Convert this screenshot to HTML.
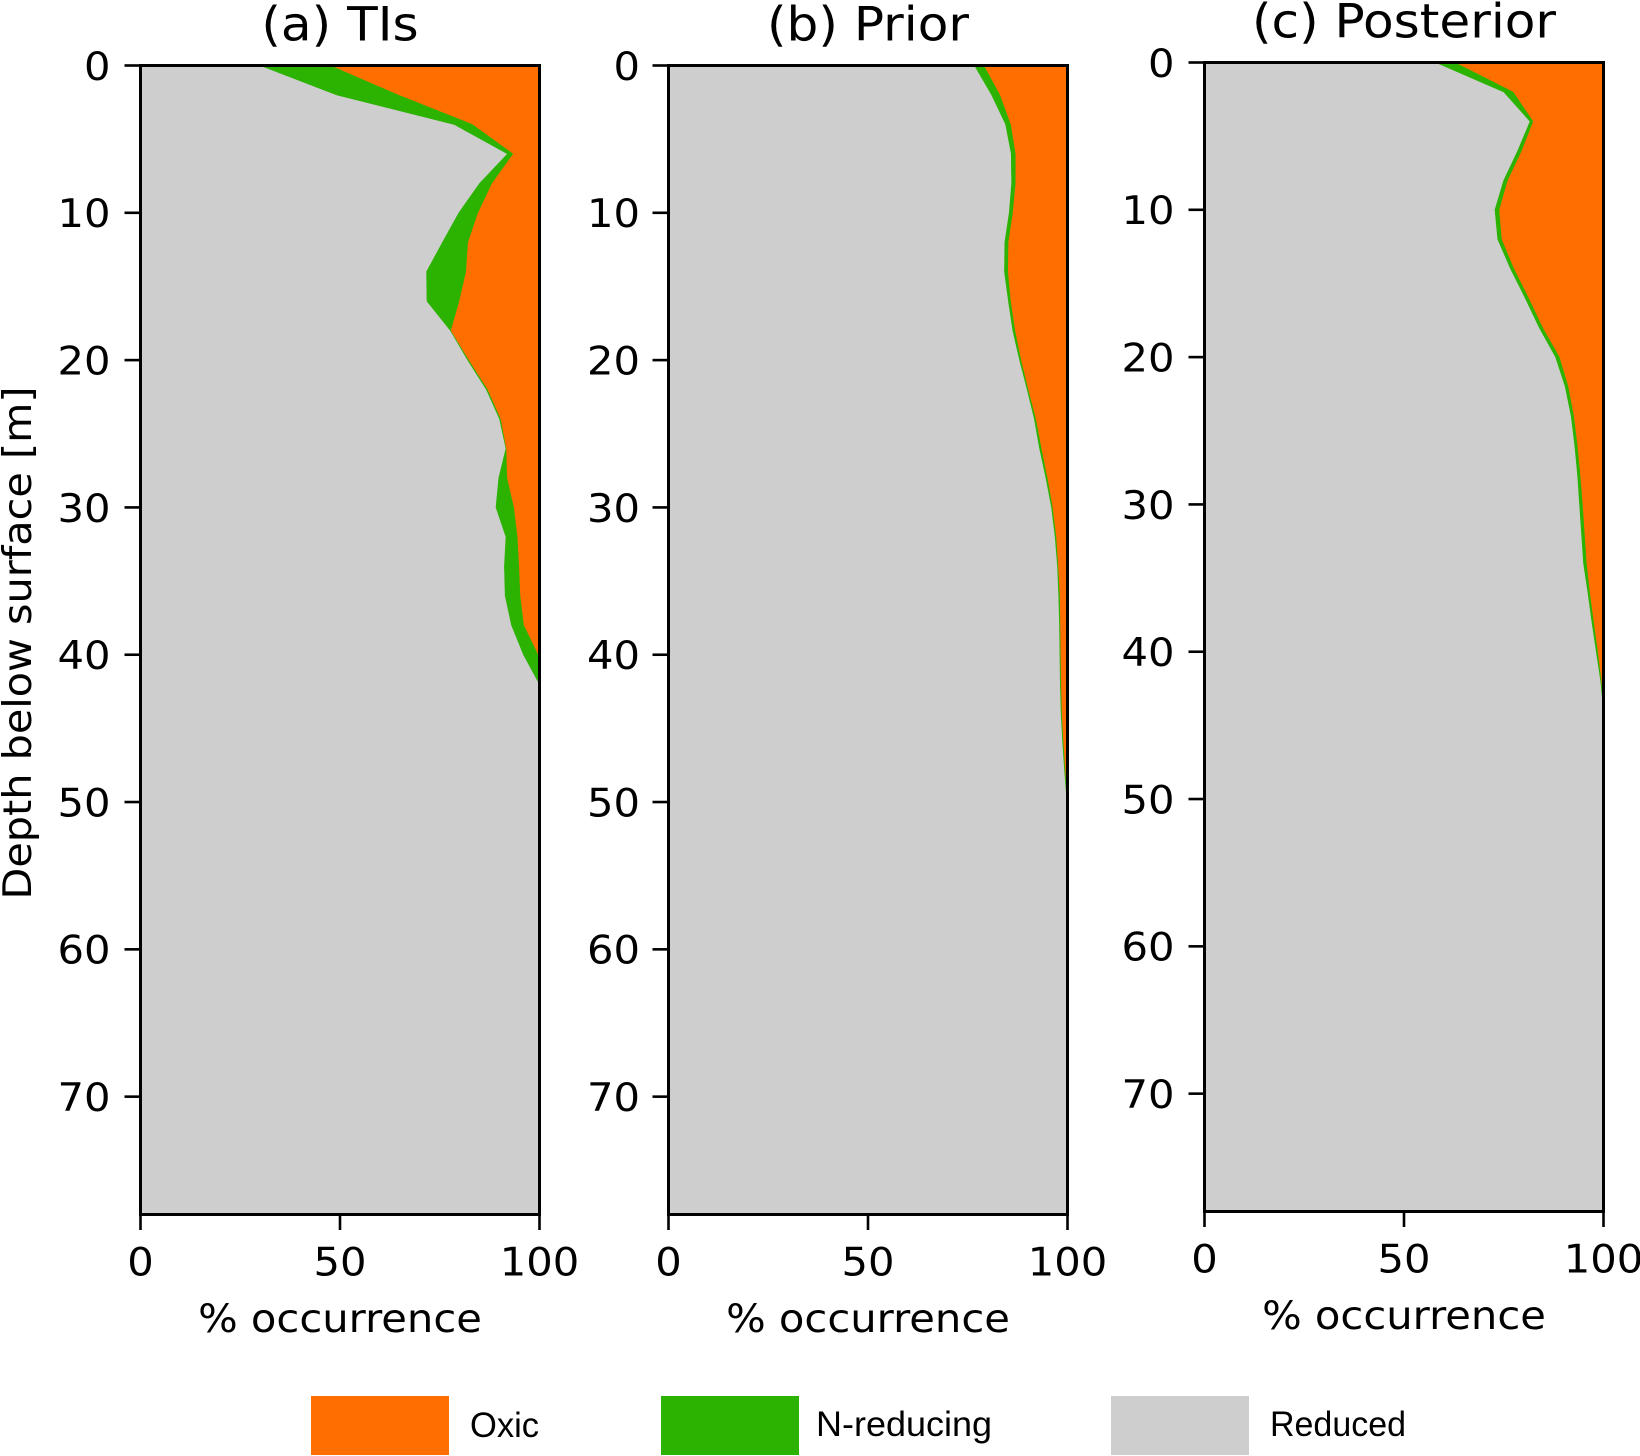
<!DOCTYPE html>
<html>
<head>
<meta charset="utf-8">
<style>
html,body{margin:0;padding:0;background:#fff;width:1640px;height:1456px;overflow:hidden}
svg{display:block}
text{font-family:"DejaVu Sans","Liberation Sans",sans-serif;fill:#000}
.legend-text{font-family:"Liberation Sans",sans-serif}
</style>
</head>
<body>
<svg id="chart" xmlns="http://www.w3.org/2000/svg" width="1640" height="1456" viewBox="0 0 1640 1456">
  <text transform="translate(31,643) rotate(-90)" text-anchor="middle" font-size="39.5" textLength="513" lengthAdjust="spacingAndGlyphs">Depth below surface [m]</text>
  <g>
    <rect x="311" y="1396" width="138" height="59" fill="#ff6e00"/>
    <text class="legend-text" x="470" y="1437" font-size="35" textLength="69" lengthAdjust="spacingAndGlyphs">Oxic</text>
    <rect x="661" y="1396" width="138" height="59" fill="#2cb200"/>
    <text class="legend-text" x="816" y="1436" font-size="35" textLength="176" lengthAdjust="spacingAndGlyphs">N-reducing</text>
    <rect x="1111" y="1396" width="138" height="59" fill="#cecece"/>
    <text class="legend-text" x="1270" y="1436" font-size="35" textLength="136" lengthAdjust="spacingAndGlyphs">Reduced</text>
  </g>
</svg>
<script>
const depths = [0,2,4,6,8,10,12,14,16,18,20,22,24,26,28,30,32,34,36,38,40,42,44,46,48,50,52,54,56,58,60,62,64,66,68,70,72,74,76,78];
const xTickLabels = [0,50,100];
const yTickLabels = [0,10,20,30,40,50,60,70];
const panelTitles = ["(a) TIs","(b) Prior","(c) Posterior"];
const xAxisLabel = "% occurrence";

const tisReduced = [30,49.2,78.6,92,85,79.8,75.7,71.7,71.8,77.7,82,86.7,90,91.6,89.8,89.1,91.6,91.2,91.4,93,96,100,100,100,100,100,100,100,100,100,100,100,100,100,100,100,100,100,100,100];
const tisNReducing = [17.5,15.3,4.5,1.3,3,4.7,6.3,9.8,8,0,0.2,0.2,0.2,0,2,4.4,2.8,3.6,3.7,3,3.6,0,0,0,0,0,0,0,0,0,0,0,0,0,0,0,0,0,0,0];
const tisOxic = [52.5,35.5,16.9,6.7,12,15.5,18,18.5,20.2,22.3,17.8,13.1,9.8,8.4,8.2,6.5,5.6,5.2,4.9,4,0.4,0,0,0,0,0,0,0,0,0,0,0,0,0,0,0,0,0,0,0];

const priorReduced = [76.7,81,84.5,85.9,86,85.4,84.3,84.2,85.2,86.3,88,89.9,91.7,93,94.6,96,96.9,97.5,97.8,98,98.1,98.2,98.4,98.8,99.3,99.9,100,100,100,100,100,100,100,100,100,100,100,100,100,100];
const priorNReducing = [2.3,2,1.2,1,0.9,0.8,0.8,0.8,0.5,0.5,0.3,0.2,0.3,0.4,0.3,0.2,0.2,0.1,0.2,0.1,0.1,0.1,0.1,0.1,0.1,0,0,0,0,0,0,0,0,0,0,0,0,0,0,0];
const priorOxic = [21,17,14.3,13.1,13.1,13.8,14.9,15,14.3,13.2,11.7,9.9,8,6.6,5.1,3.8,2.9,2.4,2,1.9,1.8,1.7,1.5,1.1,0.6,0.1,0,0,0,0,0,0,0,0,0,0,0,0,0,0];

const posteriorReduced = [58,75,81.6,78.5,75,72.8,73.5,76.7,80.4,83.9,88,90.4,91.9,92.8,93.5,94,94.5,95,96.1,97.1,98.2,99.3,100,100,100,100,100,100,100,100,100,100,100,100,100,100,100,100,100,100];
const posteriorNReducing = [4.7,2.3,0.7,0.9,0.9,1,0.9,0.8,0.8,0.8,0.9,0.7,0.6,0.6,0.6,0.7,0.7,0.7,0.4,0.4,0.3,0.1,0,0,0,0,0,0,0,0,0,0,0,0,0,0,0,0,0,0];
const posteriorOxic = [37.3,22.7,17.7,20.6,24.1,26.2,25.6,22.5,18.8,15.3,11.1,8.9,7.5,6.6,5.9,5.3,4.8,4.3,3.5,2.5,1.5,0.6,0,0,0,0,0,0,0,0,0,0,0,0,0,0,0,0,0,0];

const DEPTH_MAX = 78;
const TEXT_STRETCH = 1.055;
const NS = "http://www.w3.org/2000/svg";
const svg = document.getElementById("chart");

function make(tag, attrs, parent){
  const el = document.createElementNS(NS, tag);
  for (const k in attrs) el.setAttribute(k, attrs[k]);
  parent.appendChild(el);
  return el;
}

function stretch(el){
  const w = el.getComputedTextLength();
  el.setAttribute("textLength", (w * TEXT_STRETCH).toFixed(2));
  el.setAttribute("lengthAdjust", "spacingAndGlyphs");
}

function drawPanel(cfg){
  const xScale = v => cfg.left + v * (cfg.right - cfg.left) / 100;
  const yScale = d => cfg.top + d * (cfg.bottom - cfg.top) / DEPTH_MAX;

  const g = make("g", {}, svg);
  
  

  const lower = cfg.reduced.map(() => 0);
  const mid = cfg.reduced.map((v) => v);
  const upper = cfg.reduced.map((v, i) => v + cfg.nReducing[i]);
  const top = upper.map((v, i) => v + cfg.oxic[i]);

  function band(a, b, color, stroke, name){
    const fwd = depths.map((d, i) => xScale(a[i]).toFixed(2) + "," + yScale(d).toFixed(2));
    const back = depths.map((d, i) => xScale(b[i]).toFixed(2) + "," + yScale(d).toFixed(2)).reverse();
    const p = make("polygon", {points: fwd.concat(back).join(" "), fill: color, stroke: stroke ? color : "none", "stroke-width": stroke ? 0.6 : 0}, g);
    
    
  }
  band(lower, mid, "#cecece", false, "area-reduced");
  band(upper, top, "#ff6e00", false, "area-oxic");
  band(mid, upper, "#2cb200", true, "area-n-reducing");

  const frame = make("rect", {x: cfg.left, y: cfg.top, width: cfg.right - cfg.left, height: cfg.bottom - cfg.top, fill: "none", stroke: "#000", "stroke-width": 3}, g);
  
  

  xTickLabels.forEach(v => {
    const x = xScale(v);
    const t = make("line", {x1: x, x2: x, y1: cfg.bottom, y2: cfg.bottom + 15.5, stroke: "#000", "stroke-width": 2.6}, g);
    
    
    const l = make("text", {x: x, y: cfg.bottom + 61, "text-anchor": "middle", "font-size": 39.5}, g);
    l.textContent = v;
    
    
    stretch(l);
  });

  yTickLabels.forEach(v => {
    const y = yScale(v);
    const t = make("line", {x1: cfg.left - 16, x2: cfg.left, y1: y, y2: y, stroke: "#000", "stroke-width": 2.6}, g);
    
    
    const l = make("text", {x: cfg.left - cfg.labelGap, y: y + 14.4, "text-anchor": "end", "font-size": 39.5}, g);
    l.textContent = v;
    
    
    stretch(l);
  });

  const cx = (cfg.left + cfg.right) / 2;
  const xl = make("text", {x: cx, y: cfg.bottom + 117.5, "text-anchor": "middle", "font-size": 39.5}, g);
  xl.textContent = xAxisLabel;
  
  
  stretch(xl);

  const ti = make("text", {x: cx, y: cfg.titleY, "text-anchor": "middle", "font-size": 47.5}, g);
  ti.textContent = cfg.title;
  
  
  stretch(ti);
}

drawPanel({key:"tis", title:panelTitles[0], left:140.5, right:539.5, top:65.5, bottom:1214.5, titleY:40.5, labelGap:30, reduced:tisReduced, nReducing:tisNReducing, oxic:tisOxic});
drawPanel({key:"prior", title:panelTitles[1], left:668.5, right:1067.5, top:65.5, bottom:1214.5, titleY:40.5, labelGap:28.5, reduced:priorReduced, nReducing:priorNReducing, oxic:priorOxic});
drawPanel({key:"posterior", title:panelTitles[2], left:1204.5, right:1603.5, top:62.5, bottom:1211.5, titleY:37.7, labelGap:30, reduced:posteriorReduced, nReducing:posteriorNReducing, oxic:posteriorOxic});
</script>
</body>
</html>
